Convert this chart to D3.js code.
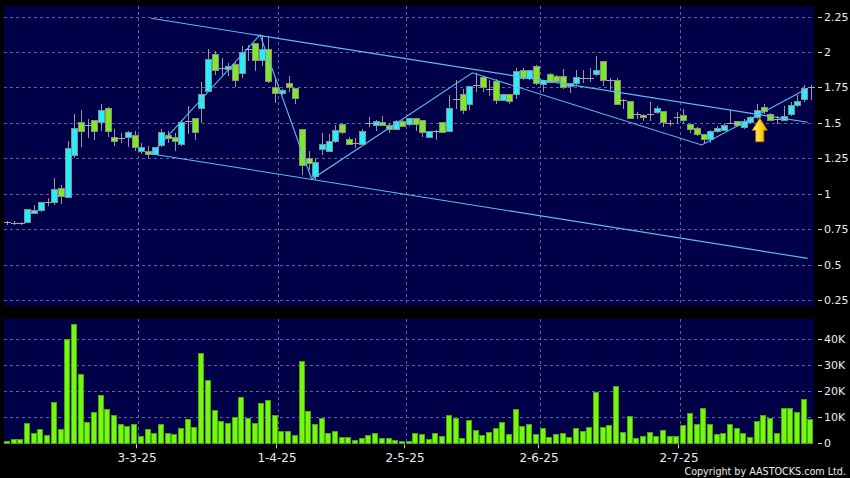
<!DOCTYPE html>
<html><head><meta charset="utf-8">
<script src="https://cdn.jsdelivr.net/npm/d3@7"></script>
<style>html,body{margin:0;padding:0;background:#000;}svg{display:block;}</style>
</head><body>
<script>
// ---- data (price in HKD, volume in thousands of shares) ----
const open  = [0.80,0.795,0.79,0.80,0.86,0.88,0.94,0.94,1.04,0.97,1.27,1.50,1.485,1.52,1.50,1.60,1.40,1.39,1.40,1.41,1.30,1.30,1.28,1.34,1.41,1.395,1.35,1.51,1.53,1.60,1.72,1.98,1.885,1.88,1.91,1.85,2.02,2.06,1.94,2.02,1.75,1.71,1.78,1.74,1.45,1.25,1.12,1.31,1.30,1.37,1.49,1.38,1.355,1.35,1.50,1.48,1.50,1.485,1.45,1.51,1.49,1.53,1.52,1.40,1.44,1.50,1.44,1.67,1.70,1.63,1.77,1.82,1.74,1.795,1.66,1.70,1.70,1.87,1.81,1.90,1.77,1.84,1.83,1.83,1.755,1.78,1.82,1.82,1.845,1.93,1.80,1.80,1.66,1.65,1.56,1.555,1.56,1.57,1.58,1.50,1.54,1.555,1.49,1.46,1.42,1.38,1.44,1.445,1.50,1.51,1.47,1.50,1.54,1.61,1.56,1.525,1.52,1.56,1.62,1.665,1.75];
const high  = [0.81,0.81,0.80,0.89,0.92,0.94,0.97,1.11,1.06,1.37,1.56,1.59,1.53,1.52,1.63,1.61,1.46,1.43,1.44,1.44,1.36,1.34,1.33,1.46,1.44,1.43,1.52,1.62,1.53,1.79,2.02,2.01,1.96,1.92,1.92,2.04,2.05,2.06,2.12,2.11,1.82,1.74,1.83,1.74,1.45,1.30,1.25,1.43,1.42,1.485,1.50,1.40,1.39,1.46,1.54,1.52,1.55,1.50,1.52,1.52,1.53,1.53,1.52,1.44,1.45,1.50,1.70,1.80,1.74,1.76,1.85,1.83,1.80,1.81,1.70,1.70,1.885,1.89,1.87,1.91,1.80,1.85,1.84,1.88,1.78,1.87,1.87,1.89,1.97,1.93,1.82,1.82,1.67,1.65,1.58,1.56,1.65,1.62,1.58,1.52,1.58,1.60,1.49,1.47,1.42,1.45,1.48,1.49,1.59,1.51,1.53,1.55,1.63,1.63,1.57,1.55,1.62,1.65,1.70,1.77,1.77];
const low   = [0.78,0.78,0.78,0.79,0.855,0.87,0.91,0.92,0.93,0.97,1.25,1.33,1.39,1.38,1.44,1.40,1.34,1.36,1.33,1.30,1.28,1.25,1.27,1.33,1.36,1.30,1.34,1.42,1.38,1.50,1.72,1.84,1.84,1.83,1.755,1.82,1.94,1.865,1.90,1.78,1.64,1.70,1.72,1.63,1.13,1.17,1.10,1.27,1.30,1.36,1.42,1.35,1.32,1.35,1.47,1.44,1.48,1.43,1.45,1.47,1.48,1.44,1.40,1.39,1.38,1.43,1.44,1.60,1.56,1.59,1.72,1.72,1.69,1.63,1.66,1.63,1.67,1.80,1.80,1.77,1.72,1.78,1.78,1.74,1.71,1.77,1.78,1.79,1.83,1.76,1.73,1.63,1.60,1.53,1.53,1.51,1.51,1.56,1.47,1.48,1.49,1.50,1.43,1.41,1.36,1.36,1.43,1.44,1.49,1.47,1.46,1.49,1.53,1.56,1.51,1.49,1.52,1.55,1.61,1.65,1.66];
const close = [0.80,0.795,0.79,0.89,0.885,0.94,0.94,1.03,0.98,1.32,1.46,1.44,1.485,1.44,1.59,1.44,1.37,1.39,1.43,1.325,1.325,1.28,1.325,1.43,1.39,1.37,1.50,1.51,1.43,1.70,1.95,1.87,1.885,1.90,1.80,2.00,2.02,1.94,2.02,1.79,1.71,1.73,1.75,1.67,1.20,1.21,1.22,1.35,1.37,1.445,1.43,1.35,1.355,1.44,1.50,1.51,1.48,1.45,1.51,1.475,1.53,1.49,1.43,1.44,1.44,1.43,1.60,1.67,1.59,1.755,1.77,1.75,1.74,1.66,1.70,1.65,1.86,1.81,1.87,1.78,1.80,1.785,1.79,1.75,1.775,1.82,1.82,1.82,1.87,1.80,1.80,1.63,1.66,1.53,1.56,1.54,1.56,1.60,1.50,1.50,1.54,1.515,1.45,1.42,1.38,1.44,1.46,1.485,1.50,1.48,1.51,1.54,1.585,1.58,1.52,1.525,1.545,1.625,1.65,1.74,1.75];
const volumeK = [0.6,1.3,1.3,7.6,3.7,5.3,3.1,15.8,5.4,39.9,45.5,26.5,7.8,11.8,18.2,12.8,10.5,7.4,6.4,7.1,2.8,5.3,3.8,7.1,3.6,3.3,5.5,9.0,6.2,34.4,24.1,12.7,8.3,7.7,9.9,17.6,9.7,7.6,15.1,16.5,10.8,4.7,4.4,2.9,31.3,12.1,7.3,9.4,3.7,4.7,2.1,2.4,0.9,1.9,2.9,3.6,1.7,1.7,1.2,0.6,0.5,3.6,3.5,1.6,3.7,2.6,10.6,9.6,1.7,8.8,5.0,2.9,4.0,5.5,7.8,3.2,13.1,6.3,7.4,3.2,5.5,2.4,3.5,3.6,2.4,5.8,4.7,6.2,19.6,6.0,6.7,21.8,4.1,10.3,1.8,2.6,4.2,2.7,5.0,2.6,2.8,6.7,11.3,7.4,13.5,7.1,3.5,3.6,7.4,5.5,3.7,2.2,8.2,10.8,9.4,3.8,13.5,13.5,11.9,16.9,9.0];
const dateTickLabels = ["3-3-25","1-4-25","2-5-25","2-6-25","2-7-25"];
const dateTickIndex  = [20, 41, 60, 80, 101];
const priceTicks  = [0.25,0.5,0.75,1,1.25,1.5,1.75,2,2.25];
const priceTickLabels = ["0.25","0.5","0.75","1","1.25","1.5","1.75","2","2.25"];
const volumeTicks = [0,10,20,30,40];
const volumeTickLabels = ["0","10K","20K","30K","40K"];
// trend lines: [candle index, price]
const channelUpper = [[21.46,2.238],[119.56,1.504]];
const channelLower = [[21.56,1.281],[119.56,0.544]];
const zigzag = [[21.56,1.281],[37.74,2.121],[45.47,1.102],[69.46,1.854],[103.73,1.344],[119.56,1.744]];
const signalArrow = {index:112.4, price:1.533};

// ---- layout ----
const W = 850, H = 478;
const P = {left:4, right:814, top:6, bottom:306};
const V = {top:319, bottom:443.3};
const n = open.length;

const svg = d3.select("body").append("svg").attr("width", W).attr("height", H);
svg.append("rect").attr("width", W).attr("height", H).attr("fill", "#000");

const x = d3.scaleLinear().domain([-0.5, n - 0.5]).range([P.left, P.right]);
const bw = x(1) - x(0);
const y = d3.scaleLinear().domain([0.2077, 2.325]).range([P.bottom, P.top]);
const yv = d3.scaleLinear().domain([0, 47.7]).range([V.bottom, V.top]);

const NAVY = "#000048", GRID = "#62629a", TXT = "#ececec";
const UP = "#22f0ff", DOWN = "#7eea24", EDGE = "#8c8c8c", VOL = "#74f810", VOLEDGE = "#46a80a";

// panels
svg.append("rect").attr("x", P.left).attr("y", P.top).attr("width", P.right - P.left).attr("height", P.bottom - P.top).attr("fill", NAVY);
svg.append("rect").attr("x", P.left).attr("y", V.top).attr("width", P.right - P.left).attr("height", V.bottom - V.top).attr("fill", NAVY);

const grid = svg.append("g").attr("stroke", GRID).attr("stroke-width", 1).attr("stroke-dasharray", "3,3").attr("shape-rendering", "crispEdges");
grid.selectAll(".hp").data(priceTicks).join("line")
  .attr("x1", P.left).attr("x2", P.right)
  .attr("y1", d => Math.round(y(d)) + 0.5).attr("y2", d => Math.round(y(d)) + 0.5);
grid.selectAll(".hv").data(volumeTicks.filter(d => d > 0)).join("line").attr("class", "hv")
  .attr("x1", P.left).attr("x2", P.right)
  .attr("y1", d => Math.round(yv(d)) + 0.5).attr("y2", d => Math.round(yv(d)) + 0.5);
dateTickIndex.forEach(i => {
  const gx = Math.round(x(i - 0.5)) + 0.5;
  grid.append("line").attr("x1", gx).attr("x2", gx).attr("y1", P.top).attr("y2", P.bottom);
  grid.append("line").attr("x1", gx).attr("x2", gx).attr("y1", V.top).attr("y2", V.bottom);
});

// candles
const cg = svg.append("g").attr("shape-rendering", "crispEdges");
const idx = open.map((_, i) => i);
cg.selectAll(".wick").data(idx).join("line")
  .attr("x1", i => Math.round(x(i)) + 0.5).attr("x2", i => Math.round(x(i)) + 0.5)
  .attr("y1", i => y(high[i])).attr("y2", i => y(low[i]))
  .attr("stroke", "#9a9a9a").attr("stroke-width", 1);
cg.selectAll(".body").data(idx.filter(i => close[i] !== open[i])).join("rect")
  .attr("x", i => Math.round(x(i)) - 2.5)
  .attr("width", 6)
  .attr("y", i => y(Math.max(open[i], close[i])))
  .attr("height", i => Math.max(2, Math.abs(y(open[i]) - y(close[i]))))
  .attr("fill", i => close[i] > open[i] ? UP : DOWN)
  .attr("stroke", EDGE).attr("stroke-width", 1);
cg.selectAll(".doji").data(idx.filter(i => close[i] === open[i])).join("line")
  .attr("x1", i => Math.round(x(i)) - 3).attr("x2", i => Math.round(x(i)) + 4)
  .attr("y1", i => Math.round(y(close[i])) + 0.5).attr("y2", i => Math.round(y(close[i])) + 0.5)
  .attr("stroke", "#a8a8a8").attr("stroke-width", 1);

// trend lines
const line = d3.line().x(d => x(d[0])).y(d => y(d[1]));
const tl = svg.append("g").attr("fill", "none").attr("stroke", "#5cbcf0").attr("stroke-width", 1.1);
[channelUpper, channelLower, zigzag].forEach(pts => tl.append("path").attr("d", line(pts)));

// signal arrow
const defs = svg.append("defs");
const gr = defs.append("linearGradient").attr("id", "arrowGrad").attr("x1", 0).attr("x2", 1).attr("y1", 0).attr("y2", 0);
gr.append("stop").attr("offset", "0%").attr("stop-color", "#fff490");
gr.append("stop").attr("offset", "50%").attr("stop-color", "#ffd61c");
gr.append("stop").attr("offset", "100%").attr("stop-color", "#f0aa00");
const ax = x(signalArrow.index), ay = y(signalArrow.price);
svg.append("path")
  .attr("d", `M${ax},${ay} L${ax+7.5},${ay+12} L${ax+4},${ay+12} L${ax+4},${ay+23.5} L${ax-4},${ay+23.5} L${ax-4},${ay+12} L${ax-7.5},${ay+12} Z`)
  .attr("fill", "url(#arrowGrad)").attr("stroke", "#c08a00").attr("stroke-width", 0.8);

// volume bars
svg.append("g").attr("shape-rendering", "crispEdges").selectAll("rect").data(idx).join("rect")
  .attr("x", i => Math.round(x(i - 0.5)) + 0.5)
  .attr("width", Math.floor(bw) - 1)
  .attr("y", i => yv(volumeK[i]))
  .attr("height", i => Math.max(1, yv(0) - yv(volumeK[i])))
  .attr("fill", VOL).attr("stroke", VOLEDGE).attr("stroke-width", 1);

// axes (right side labels)
const font = "DejaVu Sans, Verdana, sans-serif";
const ya = svg.append("g").attr("fill", TXT).attr("font-family", font).attr("font-size", "11px");
priceTicks.forEach((v, k) => {
  const ty = y(v);
  svg.append("line").attr("x1", 818).attr("x2", 822).attr("y1", Math.round(ty) + 0.5).attr("y2", Math.round(ty) + 0.5).attr("stroke", "#cfcfcf");
  ya.append("text").attr("x", 824).attr("y", ty).attr("dy", "0.36em").text(priceTickLabels[k]);
});
volumeTicks.forEach((v, k) => {
  const ty = yv(v);
  svg.append("line").attr("x1", 818).attr("x2", 822).attr("y1", Math.round(ty) + 0.5).attr("y2", Math.round(ty) + 0.5).attr("stroke", "#cfcfcf");
  ya.append("text").attr("x", 824).attr("y", ty).attr("dy", "0.36em").text(volumeTickLabels[k]);
});
const xa = svg.append("g").attr("fill", TXT).attr("font-family", font).attr("font-size", "12px").attr("text-anchor", "middle");
dateTickIndex.forEach((i, k) => {
  const gx = Math.round(x(i - 0.5)) + 0.5;
  svg.append("line").attr("x1", gx - 2).attr("x2", gx - 2).attr("y1", V.bottom + 1).attr("y2", V.bottom + 5).attr("stroke", "#cfcfcf");
  xa.append("text").attr("x", gx - 1.5).attr("y", 462).text(dateTickLabels[k]);
});
svg.append("text").attr("x", 846).attr("y", 475).attr("text-anchor", "end")
  .attr("fill", TXT).attr("font-family", font).attr("font-size", "9.6px").text("Copyright by AASTOCKS.com Ltd.");
</script>
</body></html>
